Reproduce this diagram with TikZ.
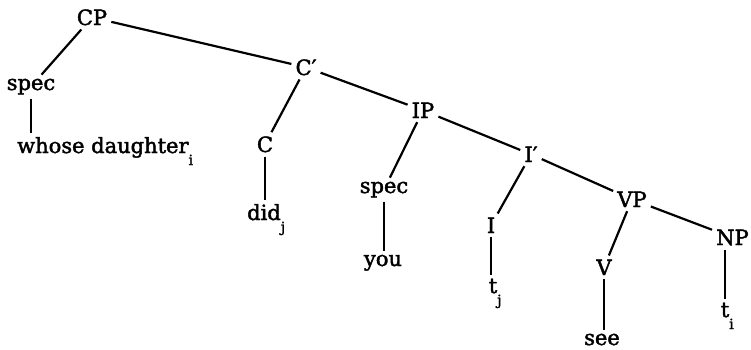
\documentclass[tikz,border=0pt]{standalone}
\usepackage{fontspec}
\setmainfont{DejaVu Serif}[FakeBold=2]
\newcommand\sbx[1]{\rlap{\smash{\raisebox{-12pt}{\fontsize{14}{14}\selectfont #1}}}}
\begin{document}
\begin{tikzpicture}[x=1pt,y=-1pt,
  lbl/.style={font=\fontsize{21}{25}\selectfont, inner sep=4pt, anchor=base},
  edge/.style={line width=2.2pt}]
\useasboundingbox (0,0) rectangle (751,349);
\node[lbl] (CP) at (92,25) {CP};
\node[lbl] (spec1) at (31,90) {spec};
\node[lbl, anchor=base west] (wd) at (13,153) {whose daughter\sbx{i}};
\node[lbl] (Cbar) at (306,75) {C′};
\node[lbl] (C) at (265,152) {C};
\node[lbl] (did) at (264,220) {did\sbx{j}};
\node[lbl] (IP) at (423,118) {IP};
\node[lbl] (spec2) at (384,193) {spec};
\node[lbl] (you) at (383,266) {you};
\node[lbl] (Ibar) at (531,162) {I′};
\node[lbl] (I) at (491,233) {I};
\node[lbl] (tj) at (493,293) {t\sbx{j}};
\node[lbl] (VP) at (632,207) {VP};
\node[lbl] (V) at (604,275) {V};
\node[lbl] (see) at (602,345) {see};
\node[lbl, anchor=base west] (NP) at (712,245) {NP};
\node[lbl] (ti) at (725,317) {t\sbx{i}};
\draw[edge] (CP) -- (spec1);
\draw[edge] (spec1) -- (spec1 |- wd.north);
\draw[edge] (CP) -- (Cbar);
\draw[edge] (Cbar) -- (C);
\draw[edge] (C) -- (C |- did.north);
\draw[edge] (Cbar) -- (IP);
\draw[edge] (IP) -- (spec2);
\draw[edge] (spec2) -- (spec2 |- you.north);
\draw[edge] (IP) -- (Ibar);
\draw[edge] (Ibar) -- (I);
\draw[edge] (I) -- (I |- tj.north);
\draw[edge] (Ibar) -- (VP);
\draw[edge] (VP) -- (V);
\draw[edge] (V) -- (V |- see.north);
\draw[edge] (VP) -- (NP);
\path (NP.south west) ++(13pt,0) coordinate (npb);
\draw[edge] (npb) -- (npb |- ti.north);
\end{tikzpicture}
\end{document}
